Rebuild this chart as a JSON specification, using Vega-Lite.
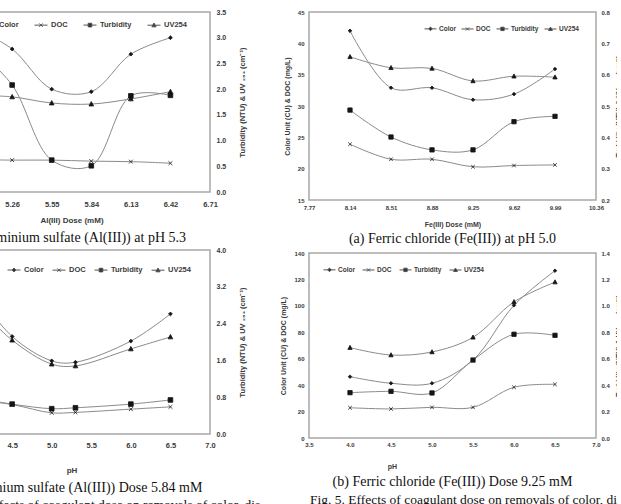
{
  "$schema": "https://vega.github.io/schema/vega-lite/v6.json",
  "autosize": {"type": "pad"},
  "padding": {"left": -76, "top": 7, "right": -10, "bottom": -4},
  "background": "white",
  "config": {
    "view": {"stroke": "#a8a8a8", "strokeWidth": 1.5},
    "axis": {"grid": false, "domain": false, "ticks": false, "labelFont": "Liberation Sans", "titleFont": "Liberation Sans", "labelColor": "#3a3a3a", "titleColor": "#3a3a3a", "labelFontWeight": "bold", "titleFontWeight": "bold", "labelOverlap": false, "labelFlush": false},
    "legend": {"labelFont": "Liberation Sans", "labelFontWeight": "bold", "labelColor": "#3a3a3a", "padding": 0, "symbolStrokeWidth": 1},
    "title": {"font": "Liberation Serif", "fontSize": 14, "fontWeight": "normal", "color": "#111"}
  },
  "datasets": {
    "tl": [
      {"x": 4.97, "s": "Color", "v": 32}, {"x": 5.26, "s": "Color", "v": 27.8}, {"x": 5.55, "s": "Color", "v": 20.0}, {"x": 5.84, "s": "Color", "v": 19.5}, {"x": 6.13, "s": "Color", "v": 26.8}, {"x": 6.42, "s": "Color", "v": 30.0},
      {"x": 4.97, "s": "DOC", "v": 6.3}, {"x": 5.26, "s": "DOC", "v": 6.2}, {"x": 5.55, "s": "DOC", "v": 6.2}, {"x": 5.84, "s": "DOC", "v": 6.0}, {"x": 6.13, "s": "DOC", "v": 5.9}, {"x": 6.42, "s": "DOC", "v": 5.6},
      {"x": 4.97, "s": "Turbidity", "v": 2.85}, {"x": 5.26, "s": "Turbidity", "v": 2.08}, {"x": 5.55, "s": "Turbidity", "v": 0.62}, {"x": 5.84, "s": "Turbidity", "v": 0.51}, {"x": 6.13, "s": "Turbidity", "v": 1.87}, {"x": 6.42, "s": "Turbidity", "v": 1.88},
      {"x": 4.97, "s": "UV254", "v": 1.88}, {"x": 5.26, "s": "UV254", "v": 1.85}, {"x": 5.55, "s": "UV254", "v": 1.73}, {"x": 5.84, "s": "UV254", "v": 1.71}, {"x": 6.13, "s": "UV254", "v": 1.81}, {"x": 6.42, "s": "UV254", "v": 1.95}
    ],
    "tr": [
      {"x": 8.14, "s": "Color", "v": 42.0}, {"x": 8.51, "s": "Color", "v": 32.9}, {"x": 8.88, "s": "Color", "v": 32.9}, {"x": 9.25, "s": "Color", "v": 31.0}, {"x": 9.62, "s": "Color", "v": 31.9}, {"x": 9.99, "s": "Color", "v": 35.9},
      {"x": 8.14, "s": "DOC", "v": 23.9}, {"x": 8.51, "s": "DOC", "v": 21.5}, {"x": 8.88, "s": "DOC", "v": 21.5}, {"x": 9.25, "s": "DOC", "v": 20.3}, {"x": 9.62, "s": "DOC", "v": 20.5}, {"x": 9.99, "s": "DOC", "v": 20.6},
      {"x": 8.14, "s": "Turbidity", "v": 0.487}, {"x": 8.51, "s": "Turbidity", "v": 0.401}, {"x": 8.88, "s": "Turbidity", "v": 0.36}, {"x": 9.25, "s": "Turbidity", "v": 0.36}, {"x": 9.62, "s": "Turbidity", "v": 0.45}, {"x": 9.99, "s": "Turbidity", "v": 0.467},
      {"x": 8.14, "s": "UV254", "v": 0.657}, {"x": 8.51, "s": "UV254", "v": 0.622}, {"x": 8.88, "s": "UV254", "v": 0.62}, {"x": 9.25, "s": "UV254", "v": 0.58}, {"x": 9.62, "s": "UV254", "v": 0.595}, {"x": 9.99, "s": "UV254", "v": 0.592}
    ],
    "bl": [
      {"x": 4.0, "s": "Color", "v": 32}, {"x": 4.5, "s": "Color", "v": 21.2}, {"x": 5.0, "s": "Color", "v": 15.9}, {"x": 5.3, "s": "Color", "v": 15.6}, {"x": 6.0, "s": "Color", "v": 20.2}, {"x": 6.5, "s": "Color", "v": 26.1},
      {"x": 4.0, "s": "DOC", "v": 7.5}, {"x": 4.5, "s": "DOC", "v": 6.4}, {"x": 5.0, "s": "DOC", "v": 4.6}, {"x": 5.3, "s": "DOC", "v": 4.7}, {"x": 6.0, "s": "DOC", "v": 5.4}, {"x": 6.5, "s": "DOC", "v": 5.9},
      {"x": 4.0, "s": "Turbidity", "v": 0.8}, {"x": 4.5, "s": "Turbidity", "v": 0.65}, {"x": 5.0, "s": "Turbidity", "v": 0.55}, {"x": 5.3, "s": "Turbidity", "v": 0.57}, {"x": 6.0, "s": "Turbidity", "v": 0.65}, {"x": 6.5, "s": "Turbidity", "v": 0.74},
      {"x": 4.0, "s": "UV254", "v": 2.9}, {"x": 4.5, "s": "UV254", "v": 2.04}, {"x": 5.0, "s": "UV254", "v": 1.52}, {"x": 5.3, "s": "UV254", "v": 1.48}, {"x": 6.0, "s": "UV254", "v": 1.85}, {"x": 6.5, "s": "UV254", "v": 2.11}
    ],
    "br": [
      {"x": 4.0, "s": "Color", "v": 46.4}, {"x": 4.5, "s": "Color", "v": 41.4}, {"x": 5.0, "s": "Color", "v": 41.4}, {"x": 5.5, "s": "Color", "v": 59.0}, {"x": 6.0, "s": "Color", "v": 100.4}, {"x": 6.5, "s": "Color", "v": 126.6},
      {"x": 4.0, "s": "DOC", "v": 22.9}, {"x": 4.5, "s": "DOC", "v": 22.0}, {"x": 5.0, "s": "DOC", "v": 23.2}, {"x": 5.5, "s": "DOC", "v": 23.2}, {"x": 6.0, "s": "DOC", "v": 38.4}, {"x": 6.5, "s": "DOC", "v": 40.6},
      {"x": 4.0, "s": "Turbidity", "v": 0.343}, {"x": 4.5, "s": "Turbidity", "v": 0.353}, {"x": 5.0, "s": "Turbidity", "v": 0.341}, {"x": 5.5, "s": "Turbidity", "v": 0.59}, {"x": 6.0, "s": "Turbidity", "v": 0.785}, {"x": 6.5, "s": "Turbidity", "v": 0.777},
      {"x": 4.0, "s": "UV254", "v": 0.684}, {"x": 4.5, "s": "UV254", "v": 0.628}, {"x": 5.0, "s": "UV254", "v": 0.651}, {"x": 5.5, "s": "UV254", "v": 0.762}, {"x": 6.0, "s": "UV254", "v": 1.03}, {"x": 6.5, "s": "UV254", "v": 1.18}
    ]
  },
  "spacing": 14,
  "hconcat": [
    {
      "bounds": "flush",
      "spacing": 58,
      "title": {"text": "Fig. 4. Effects of coagulant dose on removals of color, dis-", "orient": "bottom", "anchor": "start", "frame": "group", "dx": 15, "offset": 3, "fontSize": 13.5},
      "vconcat": [
        {
          "width": 277, "height": 180,
          "data": {"name": "tl"},
          "title": {"text": "(a) Aluminium sulfate (Al(III)) at pH 5.3", "orient": "bottom", "anchor": "middle", "frame": "group", "offset": 6},
          "encoding": {"x": {"field": "x", "type": "quantitative", "scale": {"domain": [4.68, 6.71], "nice": false, "zero": false}, "axis": {"title": "Al(III) Dose (mM)", "values": [4.68, 4.97, 5.26, 5.55, 5.84, 6.13, 6.42, 6.71], "format": ".2f", "labelFontSize": 7.5, "titleFontSize": 8, "labelPadding": 8, "titlePadding": 9}}},
          "layer": [
            {
              "transform": [{"filter": {"field": "s", "oneOf": ["Color", "DOC"]}}],
              "encoding": {"y": {"field": "v", "type": "quantitative", "scale": {"domain": [0, 35], "nice": false, "zero": false}, "axis": null}},
              "layer": [
                {"mark": {"type": "line", "interpolate": "catmull-rom", "stroke": "#8a8a8a", "strokeWidth": 1}, "encoding": {"detail": {"field": "s"}}},
                {"mark": {"type": "point", "filled": true, "fill": "#151515", "stroke": "#151515", "strokeWidth": 0.8, "opacity": 1, "size": 30}, "encoding": {"shape": {"field": "s", "type": "nominal", "scale": {"domain": ["Color", "DOC", "Turbidity", "UV254"], "range": ["M0,-0.7L0.7,0L0,0.7L-0.7,0Z", "M-0.7,-0.7L0.7,0.7M-0.7,0.7L0.7,-0.7", "M-0.85,-0.85H0.85V0.85H-0.85Z", "M0,-0.9L0.85,0.7H-0.85Z"]}, "legend": null}}}
              ]
            },
            {
              "transform": [{"filter": {"field": "s", "oneOf": ["Turbidity", "UV254"]}}],
              "encoding": {"y": {"field": "v", "type": "quantitative", "scale": {"domain": [0, 3.5], "nice": false, "zero": false}, "axis": {"orient": "right", "title": "Turbidity (NTU) & UV ₂₅₄ (cm⁻¹)", "titleAngle": 270, "values": [0, 0.5, 1, 1.5, 2, 2.5, 3, 3.5], "format": ".1f", "labelFontSize": 7, "titleFontSize": 7.5, "labelPadding": 6, "titlePadding": 21}}},
              "layer": [
                {"mark": {"type": "line", "interpolate": "catmull-rom", "stroke": "#8a8a8a", "strokeWidth": 1}, "encoding": {"detail": {"field": "s"}}},
                {"mark": {"type": "point", "filled": true, "fill": "#151515", "stroke": "#151515", "strokeWidth": 0.8, "opacity": 1, "size": 30}, "encoding": {"shape": {"field": "s", "type": "nominal", "scale": {"domain": ["Color", "DOC", "Turbidity", "UV254"], "range": ["M0,-0.7L0.7,0L0,0.7L-0.7,0Z", "M-0.7,-0.7L0.7,0.7M-0.7,0.7L0.7,-0.7", "M-0.85,-0.85H0.85V0.85H-0.85Z", "M0,-0.9L0.85,0.7H-0.85Z"]}, "legend": null}}}
              ]
            },
            {
              "transform": [{"filter": "false"}],
              "mark": {"type": "point", "filled": true, "fill": "#151515", "stroke": "#555555", "strokeWidth": 1, "opacity": 1},
              "encoding": {"shape": {"field": "s", "type": "nominal", "scale": {"domain": ["Color", "DOC", "Turbidity", "UV254"], "range": ["M-1,0H1M0,-0.3L0.3,0L0,0.3L-0.3,0Z", "M-1,0H1M-0.26,-0.26L0.26,0.26M-0.26,0.26L0.26,-0.26", "M-1,0H1M-0.28,-0.28H0.28V0.28H-0.28Z", "M-1,0H1M0,-0.32L0.32,0.25H-0.32Z"]}, "legend": {"orient": "none", "legendX": 49, "legendY": 6, "direction": "horizontal", "title": null, "symbolSize": 169, "labelFontSize": 7.5, "columnPadding": 13, "labelOffset": 3}}}
            }
          ],
          "resolve": {"scale": {"y": "independent", "shape": "independent"}}
        },
        {
          "width": 277, "height": 184,
          "data": {"name": "bl"},
          "title": {"text": "(b) Aluminium sulfate (Al(III)) Dose 5.84 mM", "orient": "bottom", "anchor": "middle", "frame": "group", "offset": 6},
          "encoding": {"x": {"field": "x", "type": "quantitative", "scale": {"domain": [3.5, 7.0], "nice": false, "zero": false}, "axis": {"title": "pH", "values": [3.5, 4.0, 4.5, 5.0, 5.5, 6.0, 6.5, 7.0], "format": ".1f", "labelFontSize": 7.5, "titleFontSize": 8, "labelPadding": 7, "titlePadding": 18}}},
          "layer": [
            {
              "transform": [{"filter": {"field": "s", "oneOf": ["Color", "DOC"]}}],
              "encoding": {"y": {"field": "v", "type": "quantitative", "scale": {"domain": [0, 40], "nice": false, "zero": false}, "axis": null}},
              "layer": [
                {"mark": {"type": "line", "interpolate": "catmull-rom", "stroke": "#8a8a8a", "strokeWidth": 1}, "encoding": {"detail": {"field": "s"}}},
                {"mark": {"type": "point", "filled": true, "fill": "#151515", "stroke": "#151515", "strokeWidth": 0.8, "opacity": 1, "size": 30}, "encoding": {"shape": {"field": "s", "type": "nominal", "scale": {"domain": ["Color", "DOC", "Turbidity", "UV254"], "range": ["M0,-0.7L0.7,0L0,0.7L-0.7,0Z", "M-0.7,-0.7L0.7,0.7M-0.7,0.7L0.7,-0.7", "M-0.85,-0.85H0.85V0.85H-0.85Z", "M0,-0.9L0.85,0.7H-0.85Z"]}, "legend": null}}}
              ]
            },
            {
              "transform": [{"filter": {"field": "s", "oneOf": ["Turbidity", "UV254"]}}],
              "encoding": {"y": {"field": "v", "type": "quantitative", "scale": {"domain": [0, 4.0], "nice": false, "zero": false}, "axis": {"orient": "right", "title": "Turbidity (NTU) & UV ₂₅₄ (cm⁻¹)", "titleAngle": 270, "values": [0, 0.8, 1.6, 2.4, 3.2, 4.0], "format": ".1f", "labelFontSize": 7, "titleFontSize": 7.5, "labelPadding": 6, "titlePadding": 21}}},
              "layer": [
                {"mark": {"type": "line", "interpolate": "catmull-rom", "stroke": "#8a8a8a", "strokeWidth": 1}, "encoding": {"detail": {"field": "s"}}},
                {"mark": {"type": "point", "filled": true, "fill": "#151515", "stroke": "#151515", "strokeWidth": 0.8, "opacity": 1, "size": 30}, "encoding": {"shape": {"field": "s", "type": "nominal", "scale": {"domain": ["Color", "DOC", "Turbidity", "UV254"], "range": ["M0,-0.7L0.7,0L0,0.7L-0.7,0Z", "M-0.7,-0.7L0.7,0.7M-0.7,0.7L0.7,-0.7", "M-0.85,-0.85H0.85V0.85H-0.85Z", "M0,-0.9L0.85,0.7H-0.85Z"]}, "legend": null}}}
              ]
            },
            {
              "transform": [{"filter": "false"}],
              "mark": {"type": "point", "filled": true, "fill": "#151515", "stroke": "#555555", "strokeWidth": 1, "opacity": 1},
              "encoding": {"shape": {"field": "s", "type": "nominal", "scale": {"domain": ["Color", "DOC", "Turbidity", "UV254"], "range": ["M-1,0H1M0,-0.3L0.3,0L0,0.3L-0.3,0Z", "M-1,0H1M-0.26,-0.26L0.26,0.26M-0.26,0.26L0.26,-0.26", "M-1,0H1M-0.28,-0.28H0.28V0.28H-0.28Z", "M-1,0H1M0,-0.32L0.32,0.25H-0.32Z"]}, "legend": {"orient": "none", "legendX": 74, "legendY": 13, "direction": "horizontal", "title": null, "symbolSize": 169, "labelFontSize": 7.5, "columnPadding": 6, "labelOffset": 3}}}
            }
          ],
          "resolve": {"scale": {"y": "independent", "shape": "independent"}}
        }
      ]
    },
    {
      "bounds": "flush",
      "spacing": 53,
      "title": {"text": "Fig. 5. Effects of coagulant dose on removals of color, dis-", "orient": "bottom", "anchor": "start", "frame": "group", "dx": 1, "offset": 3, "fontSize": 13.5},
      "vconcat": [
        {
          "width": 287, "height": 188,
          "data": {"name": "tr"},
          "title": {"text": "(a) Ferric chloride (Fe(III)) at pH 5.0", "orient": "bottom", "anchor": "middle", "frame": "group", "offset": 5},
          "encoding": {"x": {"field": "x", "type": "quantitative", "scale": {"domain": [7.77, 10.36], "nice": false, "zero": false}, "axis": {"title": "Fe(III) Dose (mM)", "values": [7.77, 8.14, 8.51, 8.88, 9.25, 9.62, 9.99, 10.36], "format": ".2f", "labelFontSize": 6, "titleFontSize": 7, "labelPadding": 4, "titlePadding": 10}}},
          "layer": [
            {
              "transform": [{"filter": {"field": "s", "oneOf": ["Color", "DOC"]}}],
              "encoding": {"y": {"field": "v", "type": "quantitative", "scale": {"domain": [15, 45], "nice": false, "zero": false}, "axis": {"orient": "left", "title": "Color Unit (CU) & DOC (mg/L)", "values": [15, 20, 25, 30, 35, 40, 45], "labelFontSize": 6, "titleFontSize": 7, "labelPadding": 5, "titlePadding": 7}}},
              "layer": [
                {"mark": {"type": "line", "interpolate": "catmull-rom", "stroke": "#8a8a8a", "strokeWidth": 1}, "encoding": {"detail": {"field": "s"}}},
                {"mark": {"type": "point", "filled": true, "fill": "#151515", "stroke": "#151515", "strokeWidth": 0.8, "opacity": 1, "size": 26}, "encoding": {"shape": {"field": "s", "type": "nominal", "scale": {"domain": ["Color", "DOC", "Turbidity", "UV254"], "range": ["M0,-0.7L0.7,0L0,0.7L-0.7,0Z", "M-0.7,-0.7L0.7,0.7M-0.7,0.7L0.7,-0.7", "M-0.85,-0.85H0.85V0.85H-0.85Z", "M0,-0.9L0.85,0.7H-0.85Z"]}, "legend": null}}}
              ]
            },
            {
              "transform": [{"filter": {"field": "s", "oneOf": ["Turbidity", "UV254"]}}],
              "encoding": {"y": {"field": "v", "type": "quantitative", "scale": {"domain": [0.2, 0.8], "nice": false, "zero": false}, "axis": {"orient": "right", "title": "Turbidity (NTU) & UV ₂₅₄ (cm⁻¹)", "titleAngle": 270, "values": [0.2, 0.3, 0.4, 0.5, 0.6, 0.7, 0.8], "format": ".1f", "labelFontSize": 6, "titleFontSize": 7, "labelPadding": 5, "titlePadding": 12}}},
              "layer": [
                {"mark": {"type": "line", "interpolate": "catmull-rom", "stroke": "#8a8a8a", "strokeWidth": 1}, "encoding": {"detail": {"field": "s"}}},
                {"mark": {"type": "point", "filled": true, "fill": "#151515", "stroke": "#151515", "strokeWidth": 0.8, "opacity": 1, "size": 26}, "encoding": {"shape": {"field": "s", "type": "nominal", "scale": {"domain": ["Color", "DOC", "Turbidity", "UV254"], "range": ["M0,-0.7L0.7,0L0,0.7L-0.7,0Z", "M-0.7,-0.7L0.7,0.7M-0.7,0.7L0.7,-0.7", "M-0.85,-0.85H0.85V0.85H-0.85Z", "M0,-0.9L0.85,0.7H-0.85Z"]}, "legend": null}}}
              ]
            },
            {
              "transform": [{"filter": "false"}],
              "mark": {"type": "point", "filled": true, "fill": "#151515", "stroke": "#555555", "strokeWidth": 1, "opacity": 1},
              "encoding": {"shape": {"field": "s", "type": "nominal", "scale": {"domain": ["Color", "DOC", "Turbidity", "UV254"], "range": ["M-1,0H1M0,-0.3L0.3,0L0,0.3L-0.3,0Z", "M-1,0H1M-0.26,-0.26L0.26,0.26M-0.26,0.26L0.26,-0.26", "M-1,0H1M-0.28,-0.28H0.28V0.28H-0.28Z", "M-1,0H1M0,-0.32L0.32,0.25H-0.32Z"]}, "legend": {"orient": "none", "legendX": 115, "legendY": 10, "direction": "horizontal", "title": null, "symbolSize": 144, "labelFontSize": 6.5, "columnPadding": 3, "labelOffset": 2}}}
            }
          ],
          "resolve": {"scale": {"y": "independent", "shape": "independent"}}
        },
        {
          "width": 287, "height": 185,
          "data": {"name": "br"},
          "title": {"text": "(b) Ferric chloride (Fe(III)) Dose 9.25 mM", "orient": "bottom", "anchor": "middle", "frame": "group", "offset": 6},
          "encoding": {"x": {"field": "x", "type": "quantitative", "scale": {"domain": [3.5, 7.0], "nice": false, "zero": false}, "axis": {"title": "pH", "titleX": 83, "values": [3.5, 4.0, 4.5, 5.0, 5.5, 6.0, 6.5, 7.0], "format": ".1f", "labelFontSize": 6, "titleFontSize": 7, "labelPadding": 3, "titlePadding": 15}}},
          "layer": [
            {
              "transform": [{"filter": {"field": "s", "oneOf": ["Color", "DOC"]}}],
              "encoding": {"y": {"field": "v", "type": "quantitative", "scale": {"domain": [0, 140], "nice": false, "zero": false}, "axis": {"orient": "left", "title": "Color Unit (CU) & DOC (mg/L)", "values": [0, 20, 40, 60, 80, 100, 120, 140], "labelFontSize": 6, "titleFontSize": 7, "labelPadding": 5, "titlePadding": 7}}},
              "layer": [
                {"mark": {"type": "line", "interpolate": "catmull-rom", "stroke": "#8a8a8a", "strokeWidth": 1}, "encoding": {"detail": {"field": "s"}}},
                {"mark": {"type": "point", "filled": true, "fill": "#151515", "stroke": "#151515", "strokeWidth": 0.8, "opacity": 1, "size": 26}, "encoding": {"shape": {"field": "s", "type": "nominal", "scale": {"domain": ["Color", "DOC", "Turbidity", "UV254"], "range": ["M0,-0.7L0.7,0L0,0.7L-0.7,0Z", "M-0.7,-0.7L0.7,0.7M-0.7,0.7L0.7,-0.7", "M-0.85,-0.85H0.85V0.85H-0.85Z", "M0,-0.9L0.85,0.7H-0.85Z"]}, "legend": null}}}
              ]
            },
            {
              "transform": [{"filter": {"field": "s", "oneOf": ["Turbidity", "UV254"]}}],
              "encoding": {"y": {"field": "v", "type": "quantitative", "scale": {"domain": [0, 1.4], "nice": false, "zero": false}, "axis": {"orient": "right", "title": "Turbidity (NTU) & UV ₂₅₄ (cm⁻¹)", "titleAngle": 270, "values": [0, 0.2, 0.4, 0.6, 0.8, 1.0, 1.2, 1.4], "format": ".1f", "labelFontSize": 6, "titleFontSize": 7, "labelPadding": 5, "titlePadding": 12}}},
              "layer": [
                {"mark": {"type": "line", "interpolate": "catmull-rom", "stroke": "#8a8a8a", "strokeWidth": 1}, "encoding": {"detail": {"field": "s"}}},
                {"mark": {"type": "point", "filled": true, "fill": "#151515", "stroke": "#151515", "strokeWidth": 0.8, "opacity": 1, "size": 26}, "encoding": {"shape": {"field": "s", "type": "nominal", "scale": {"domain": ["Color", "DOC", "Turbidity", "UV254"], "range": ["M0,-0.7L0.7,0L0,0.7L-0.7,0Z", "M-0.7,-0.7L0.7,0.7M-0.7,0.7L0.7,-0.7", "M-0.85,-0.85H0.85V0.85H-0.85Z", "M0,-0.9L0.85,0.7H-0.85Z"]}, "legend": null}}}
              ]
            },
            {
              "transform": [{"filter": "false"}],
              "mark": {"type": "point", "filled": true, "fill": "#151515", "stroke": "#555555", "strokeWidth": 1, "opacity": 1},
              "encoding": {"shape": {"field": "s", "type": "nominal", "scale": {"domain": ["Color", "DOC", "Turbidity", "UV254"], "range": ["M-1,0H1M0,-0.3L0.3,0L0,0.3L-0.3,0Z", "M-1,0H1M-0.26,-0.26L0.26,0.26M-0.26,0.26L0.26,-0.26", "M-1,0H1M-0.28,-0.28H0.28V0.28H-0.28Z", "M-1,0H1M0,-0.32L0.32,0.25H-0.32Z"]}, "legend": {"orient": "none", "legendX": 14, "legendY": 10, "direction": "horizontal", "title": null, "symbolSize": 144, "labelFontSize": 6.5, "columnPadding": 5, "labelOffset": 2}}}
            }
          ],
          "resolve": {"scale": {"y": "independent", "shape": "independent"}}
        }
      ]
    }
  ]
}
